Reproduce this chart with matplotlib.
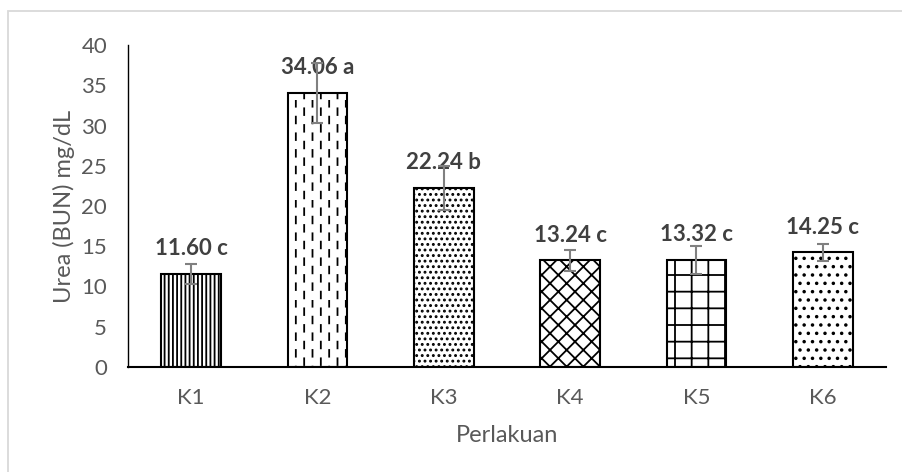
import numpy as np
import matplotlib
matplotlib.use('Agg')
import matplotlib.pyplot as plt
import matplotlib.hatch as mhatch
from matplotlib.path import Path
from matplotlib.patches import Rectangle

plt.rcParams['font.family'] = ['Lato', 'DejaVu Sans']
plt.rcParams['hatch.linewidth'] = 1.3

perlakuan = ['K1', 'K2', 'K3', 'K4', 'K5', 'K6']
urea = [11.60, 34.06, 22.24, 13.24, 13.32, 14.25]
sd = [1.25, 3.75, 2.70, 1.30, 1.75, 1.05]
notasi = ['c', 'a', 'b', 'c', 'c', 'c']


# staggered vertical dashes, hooked onto the 'O' hatch character
class DashedVertical(mhatch.HatchPatternBase):
    def __init__(self, hatch, density):
        self.num_cols = int(hatch.count('O') * density)
        self.num_rows = self.num_cols // 2
        self.num_vertices = self.num_cols * self.num_rows * 2

    def set_vertices_and_codes(self, vertices, codes):
        dx = 1.0 / self.num_cols
        dy = 1.0 / self.num_rows
        i = 0
        for c in range(self.num_cols):
            x = (c + 0.5) * dx
            shift = 0.5 * dy if c % 2 else 0.0
            for r in range(self.num_rows):
                y0 = r * dy + shift + 0.1 * dy
                vertices[i] = (x, y0)
                vertices[i + 1] = (x, y0 + 0.4 * dy)
                codes[i] = Path.MOVETO
                codes[i + 1] = Path.LINETO
                i += 2


mhatch._hatch_types = [t for t in mhatch._hatch_types
                       if t is not mhatch.LargeCircles] + [DashedVertical]

hatches = ['||||', 'OO', '...', 'xx', '+', '..']

fig = plt.figure(figsize=(9.03, 4.72), dpi=100)
ax = fig.add_axes([128/903, 1 - 367/472, 758/903, 322/472])

x = np.arange(len(perlakuan))
bars = ax.bar(x, urea, width=0.47, color='white', edgecolor='black', linewidth=1.5, zorder=2)
for b, h in zip(bars, hatches):
    b.set_hatch(h)

ax.errorbar(x, urea, yerr=sd, fmt='none', ecolor='#808080', elinewidth=1.5,
            capsize=4, capthick=1.5, zorder=4)

for xi, v, n in zip(x, urea, notasi):
    ax.annotate(f'{v:.2f} {n}', (xi, v), xytext=(0, 18), textcoords='offset points',
                ha='center', va='center', fontsize=16, fontweight='bold', color='#404040', zorder=3)

ax.set_xlim(-0.5, len(perlakuan) - 0.5)
ax.set_ylim(0, 40)
ax.set_yticks(np.arange(0, 41, 5))
ax.set_xticks(x)
ax.set_xticklabels(perlakuan)
ax.tick_params(length=0, pad=15, labelsize=16, labelcolor='#595959')
for s in ['top', 'right']:
    ax.spines[s].set_visible(False)
ax.spines['left'].set_linewidth(1.0)
ax.spines['bottom'].set_linewidth(1.5)

fig.text(507/903, 1 - 435/472, 'Perlakuan', fontsize=17, color='#595959',
         ha='center', va='center')
fig.text(64/903, 1 - 206/472, 'Urea (BUN) mg/dL', fontsize=17, color='#595959',
         ha='center', va='center', rotation=90)

# chart frame
fig.patches.append(Rectangle((8/903, -0.1), 1.2, 1.1 - 11/472, transform=fig.transFigure,
                             fill=False, edgecolor='#d9d9d9', linewidth=1.3))

fig.savefig('out.png', dpi=100)
plt.close()
